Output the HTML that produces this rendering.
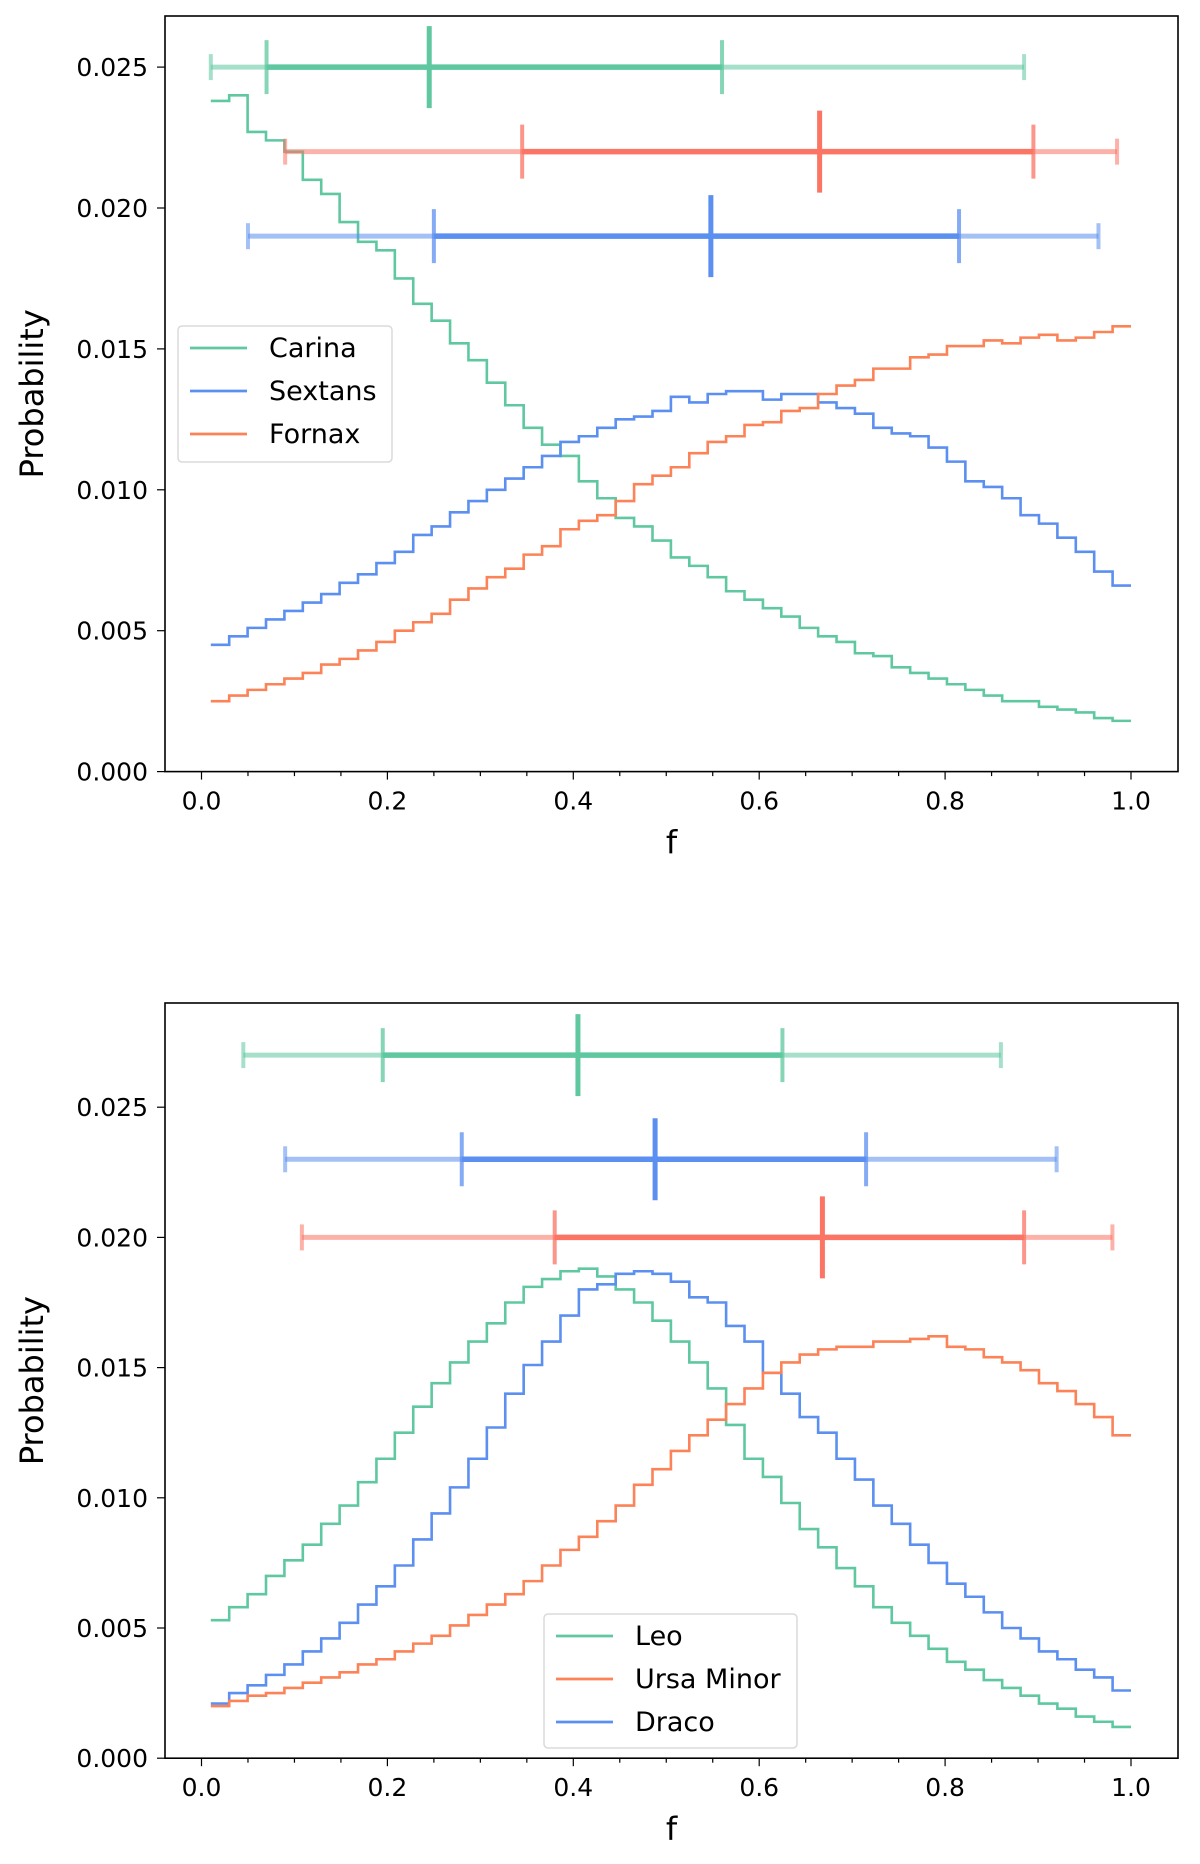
<!DOCTYPE html>
<html><head><meta charset="utf-8"><style>
html,body{margin:0;padding:0;background:#fff;}
svg{display:block;font-family:"DejaVu Sans","Liberation Sans",sans-serif;}
</style></head><body>
<svg id="fig" width="1200" height="1864" viewBox="0 0 1200 1864" xmlns="http://www.w3.org/2000/svg"></svg>
<script>
const binEdgeStart = 0.01, binEdgeEnd = 1.0;
const carina = [0.0238,0.0240,0.0227,0.0224,0.0220,0.0210,0.0205,0.0195,0.0188,0.0185,0.0175,0.0166,0.0160,0.0152,0.0146,0.0138,0.0130,0.0122,0.0116,0.0112,0.0103,0.0097,0.0090,0.0087,0.0082,0.0076,0.0073,0.0069,0.0064,0.0061,0.0058,0.0055,0.0051,0.0048,0.0046,0.0042,0.0041,0.0037,0.0035,0.0033,0.0031,0.0029,0.0027,0.0025,0.0025,0.0023,0.0022,0.0021,0.0019,0.0018];
const sextans = [0.0045,0.0048,0.0051,0.0054,0.0057,0.0060,0.0063,0.0067,0.0070,0.0074,0.0078,0.0084,0.0087,0.0092,0.0096,0.0100,0.0104,0.0108,0.0112,0.0117,0.0119,0.0122,0.0125,0.0126,0.0128,0.0133,0.0131,0.0134,0.0135,0.0135,0.0132,0.0134,0.0134,0.0131,0.0129,0.0127,0.0122,0.0120,0.0119,0.0115,0.0110,0.0103,0.0101,0.0097,0.0091,0.0088,0.0083,0.0078,0.0071,0.0066];
const fornax = [0.0025,0.0027,0.0029,0.0031,0.0033,0.0035,0.0038,0.0040,0.0043,0.0046,0.0050,0.0053,0.0056,0.0061,0.0065,0.0069,0.0072,0.0077,0.0080,0.0086,0.0089,0.0091,0.0096,0.0102,0.0105,0.0108,0.0113,0.0117,0.0119,0.0123,0.0124,0.0128,0.0129,0.0134,0.0137,0.0139,0.0143,0.0143,0.0147,0.0148,0.0151,0.0151,0.0153,0.0152,0.0154,0.0155,0.0153,0.0154,0.0156,0.0158];
const leo = [0.0053,0.0058,0.0063,0.0070,0.0076,0.0082,0.0090,0.0097,0.0106,0.0115,0.0125,0.0135,0.0144,0.0152,0.0160,0.0167,0.0175,0.0181,0.0184,0.0187,0.0188,0.0185,0.0180,0.0175,0.0168,0.0160,0.0152,0.0142,0.0128,0.0115,0.0108,0.0098,0.0088,0.0081,0.0073,0.0066,0.0058,0.0052,0.0047,0.0042,0.0037,0.0034,0.0030,0.0027,0.0024,0.0021,0.0019,0.0016,0.0014,0.0012];
const draco = [0.0021,0.0025,0.0028,0.0032,0.0036,0.0041,0.0046,0.0052,0.0059,0.0066,0.0074,0.0084,0.0094,0.0104,0.0115,0.0127,0.0140,0.0151,0.0160,0.0170,0.0180,0.0182,0.0186,0.0187,0.0186,0.0183,0.0177,0.0175,0.0166,0.0160,0.0148,0.0140,0.0131,0.0125,0.0115,0.0107,0.0097,0.0090,0.0082,0.0075,0.0067,0.0062,0.0056,0.0050,0.0046,0.0041,0.0038,0.0034,0.0031,0.0026];
const ursaMinor = [0.0020,0.0022,0.0024,0.0025,0.0027,0.0029,0.0031,0.0033,0.0036,0.0038,0.0041,0.0044,0.0047,0.0051,0.0055,0.0059,0.0063,0.0068,0.0074,0.0080,0.0085,0.0091,0.0097,0.0105,0.0111,0.0118,0.0124,0.0130,0.0136,0.0142,0.0148,0.0152,0.0155,0.0157,0.0158,0.0158,0.0160,0.0160,0.0161,0.0162,0.0158,0.0157,0.0154,0.0152,0.0149,0.0144,0.0141,0.0136,0.0131,0.0124];
// error bars: [y, outerLo, innerLo, median, innerHi, outerHi]
const topBars = [[0.025,0.01,0.07,0.245,0.56,0.885],[0.022,0.09,0.345,0.665,0.895,0.985],[0.019,0.05,0.25,0.548,0.815,0.965]];
const botBars = [[0.027,0.045,0.195,0.405,0.625,0.86],[0.023,0.09,0.28,0.488,0.715,0.92],[0.020,0.108,0.38,0.668,0.885,0.98]];
const xTicks = [0,0.2,0.4,0.6,0.8,1.0];
const xTickLabels = ["0.0","0.2","0.4","0.6","0.8","1.0"];
const yTicks = [0,0.005,0.01,0.015,0.02,0.025];
const yTickLabels = ["0.000","0.005","0.010","0.015","0.020","0.025"];
const topNames = ["Carina","Sextans","Fornax"];
const botNames = ["Leo","Ursa Minor","Draco"];

const GREEN="#5fc8a0", BLUE="#5b8ff0", ORANGE="#fc8257", SALMON="#fb7464";
const NS="http://www.w3.org/2000/svg";
const svg=document.getElementById('fig');
function mk(tag,attrs,parent){const e=document.createElementNS(NS,tag);for(const k in attrs)e.setAttribute(k,attrs[k]);(parent||svg).appendChild(e);return e;}

function panel(cfg){
  const g=mk('g',{});
  
  
  const X=v=>cfg.x0+(cfg.x1-cfg.x0)*v;
  const Y=v=>cfg.y0-(v/0.005)*cfg.per;
  const fr=mk('rect',{x:cfg.L,y:cfg.T,width:cfg.R-cfg.L,height:cfg.B-cfg.T,fill:'none',stroke:'#000','stroke-width':1.6},g);
  
  
  for(let i=0;i<=20;i++){const v=i*0.05;const major=i%4===0;
    const t=mk('line',{x1:X(v),x2:X(v),y1:cfg.B,y2:cfg.B+(major?8:4.5),stroke:'#000','stroke-width':1.2},g);
    
    }
  xTicks.forEach((v,i)=>{const t=mk('text',{x:X(v),y:cfg.B+38,'font-size':25,'text-anchor':'middle',fill:'#000'},g);t.textContent=xTickLabels[i];
    
    });
  yTicks.forEach((v,i)=>{
    const l=mk('line',{x1:cfg.L-8,x2:cfg.L,y1:Y(v),y2:Y(v),stroke:'#000','stroke-width':1.2},g);
    
    
    const t=mk('text',{x:cfg.L-17,y:Y(v)+9,'font-size':25,'text-anchor':'end',fill:'#000'},g);t.textContent=yTickLabels[i];
    
    });
  const xl=mk('text',{x:(cfg.L+cfg.R)/2,y:cfg.B+82,'font-size':32,'text-anchor':'middle'},g);xl.textContent='f';
  
  
  const yc=(cfg.T+cfg.B)/2;
  const yl=mk('text',{x:43,y:yc,'font-size':32,'text-anchor':'middle',transform:`rotate(-90 43 ${yc})`},g);yl.textContent='Probability';
  
  
  cfg.series.forEach(s=>{
    const n=s.data.length, w=(binEdgeEnd-binEdgeStart)/n;
    let d=`M${X(binEdgeStart)},${Y(s.data[0])}`;
    s.data.forEach((v,i)=>{const xa=X(binEdgeStart+i*w),xb=X(binEdgeStart+(i+1)*w);d+=` L${xa},${Y(v)} L${xb},${Y(v)}`;});
    const p=mk('path',{d:d,fill:'none',stroke:s.color,'stroke-width':2.6,'stroke-linejoin':'miter'},g);
    
    
  });
  cfg.bars.forEach((b,i)=>{
    const c=cfg.barColors[i];const y=Y(b[0]);
    const eg=mk('g',{},g);
    
    
    mk('line',{x1:X(b[1]),x2:X(b[5]),y1:y,y2:y,stroke:c,'stroke-width':5,opacity:0.55},eg);
    mk('line',{x1:X(b[2]),x2:X(b[4]),y1:y,y2:y,stroke:c,'stroke-width':5.5},eg);
    [b[1],b[5]].forEach(v=>mk('line',{x1:X(v),x2:X(v),y1:y-13,y2:y+13,stroke:c,'stroke-width':4,opacity:0.55},eg));
    [b[2],b[4]].forEach(v=>mk('line',{x1:X(v),x2:X(v),y1:y-27,y2:y+27,stroke:c,'stroke-width':4,opacity:0.75},eg));
    mk('line',{x1:X(b[3]),x2:X(b[3]),y1:y-41,y2:y+41,stroke:c,'stroke-width':5},eg);
  });
  const lg=mk('g',{},g);
  
  
  mk('rect',{x:cfg.leg.x,y:cfg.leg.y,width:cfg.leg.w,height:cfg.leg.h,rx:4,fill:'#fff',stroke:'#d6d6d6','stroke-width':1.5,opacity:0.9},lg);
  cfg.leg.items.forEach((it,i)=>{
    const yy=cfg.leg.y+22+i*43;
    const e=mk('g',{},lg);
    
    
    mk('line',{x1:cfg.leg.x+12,x2:cfg.leg.x+69,y1:yy,y2:yy,stroke:it.color,'stroke-width':2.8},e);
    const t=mk('text',{x:cfg.leg.x+91,y:yy+9,'font-size':27},e);t.textContent=it.label;
  });
}
const xa0=201.5, xa1=1131;
panel({name:'top-panel',L:165,R:1178,T:16,B:771.6,x0:xa0,x1:xa1,y0:771.6,per:140.9,
  series:[{key:'carina',data:carina,color:GREEN},{key:'sextans',data:sextans,color:BLUE},{key:'fornax',data:fornax,color:ORANGE}],
  bars:topBars,barColors:[GREEN,SALMON,BLUE],barKeys:['carina','fornax','sextans'],
  leg:{x:178,y:326,w:214,h:136,items:[{label:topNames[0],color:GREEN},{label:topNames[1],color:BLUE},{label:topNames[2],color:ORANGE}]}});
panel({name:'bottom-panel',L:165,R:1178,T:1003,B:1758.2,x0:xa0,x1:xa1,y0:1758.2,per:130.2,
  series:[{key:'leo',data:leo,color:GREEN},{key:'draco',data:draco,color:BLUE},{key:'ursa-minor',data:ursaMinor,color:ORANGE}],
  bars:botBars,barColors:[GREEN,BLUE,SALMON],barKeys:['leo','draco','ursa-minor'],
  leg:{x:544,y:1614,w:253,h:134,items:[{label:botNames[0],color:GREEN},{label:botNames[1],color:ORANGE},{label:botNames[2],color:BLUE}]}});
</script>
</body></html>
